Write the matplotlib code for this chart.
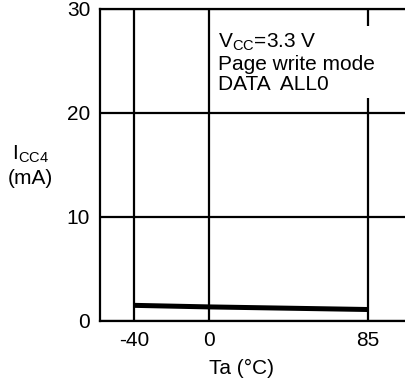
import matplotlib
matplotlib.use('Agg')
import matplotlib.pyplot as plt

plt.rcParams['font.family'] = ['Liberation Sans', 'DejaVu Sans']
plt.rcParams['axes.unicode_minus'] = False

# ICC4 vs ambient temperature
ta = [-40, 0, 85]
icc4 = [1.5, 1.35, 1.1]
xticks = [-40, 0, 85]
yticks = [0, 10, 20, 30]

fig = plt.figure(figsize=(4.06, 3.83), dpi=100)
ax = fig.add_axes([0.246, 0.162, 0.754, 0.815])

ax.plot(ta, icc4, color='black', lw=3.6, solid_capstyle='butt', zorder=4)

ax.set_xlim(-58.2, 105.3)
ax.set_ylim(0, 30)
ax.set_xticks(xticks)
ax.set_yticks(yticks)
ax.tick_params(axis='x', length=0, labelsize=15, pad=7)
ax.tick_params(axis='y', length=0, labelsize=15, pad=7)
ax.grid(True, color='black', lw=1.6)
ax.set_axisbelow(True)
for s in ['left', 'bottom', 'top']:
    ax.spines[s].set_linewidth(1.6)
ax.spines['right'].set_visible(False)

ax.text(4.8, 27.8, 'V$_{\\mathregular{CC}}$=3.3 V\nPage write mode\nDATA  ALL0',
        fontsize=15, va='top', ha='left', linespacing=1.1, zorder=3,
        bbox=dict(facecolor='white', edgecolor='none', pad=3))

fig.text(0.075, 0.567, 'I$_{\\mathregular{CC4}}$\n(mA)', fontsize=15,
         ha='center', va='center', linespacing=1.3)
fig.text(0.596, 0.037, 'Ta (°C)', fontsize=15, ha='center', va='center')

fig.savefig('out.png', dpi=100)
